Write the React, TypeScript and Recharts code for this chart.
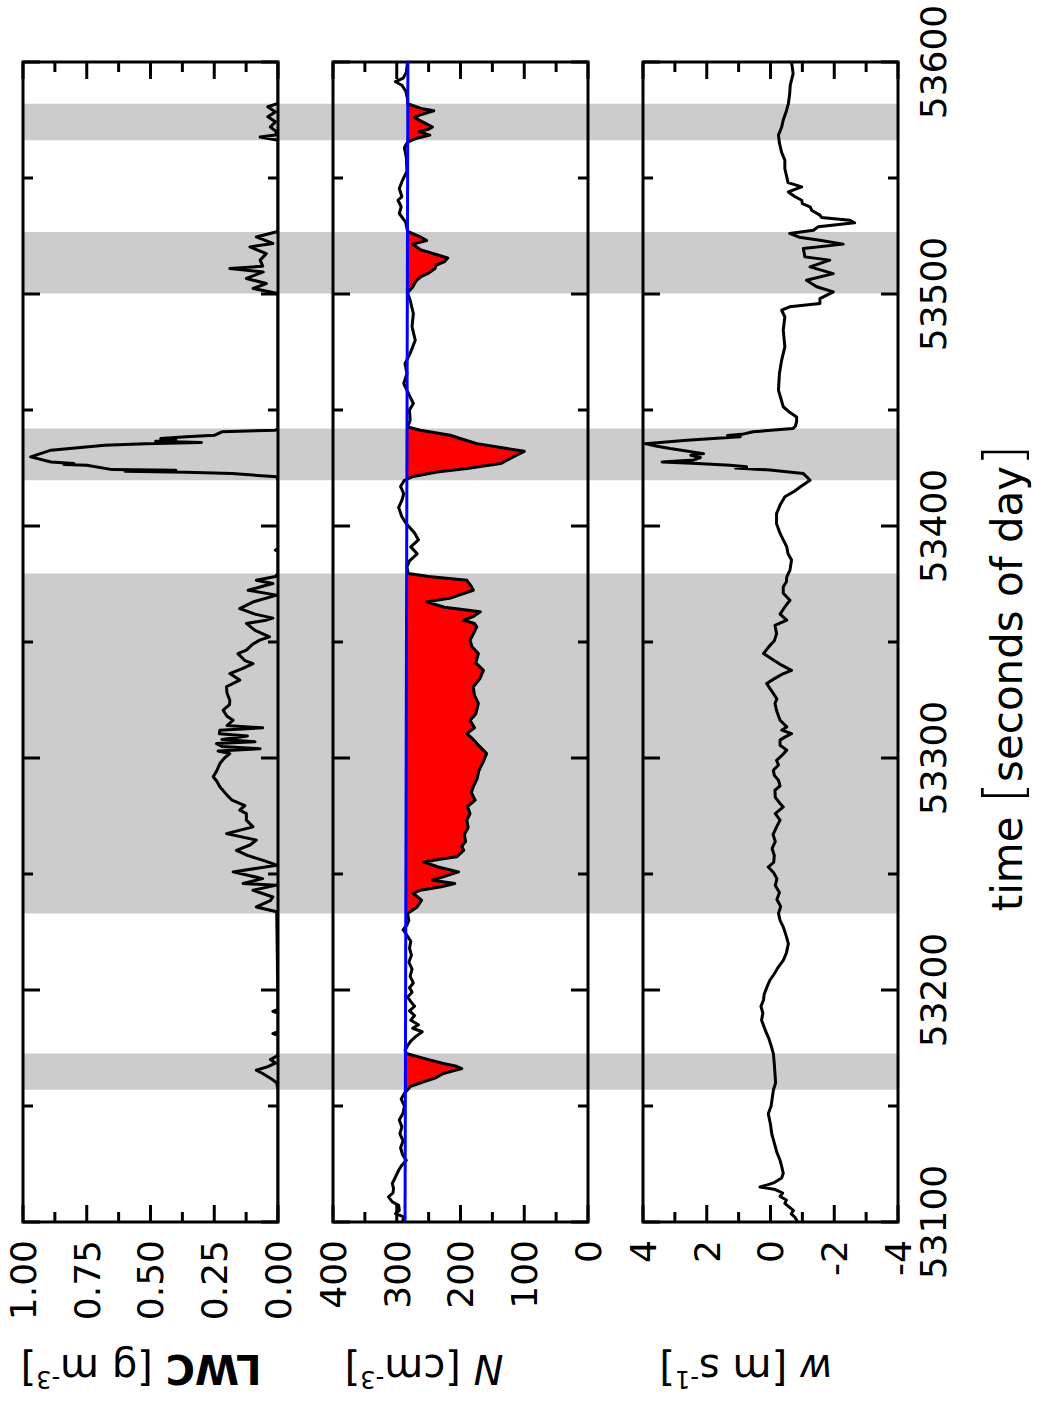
import React from 'react';
import { ComposedChart, Line, Area, XAxis, YAxis, ReferenceArea } from 'recharts';

const FONT = 'DejaVu Sans';

// cloud passages (grey bands), seconds of day
const cloudStart = [53157, 53233, 53419.7, 53500.2, 53566.3];
const cloudEnd = [53172.6, 53379.5, 53442, 53526.7, 53582];

const timeTicks = [53100, 53150, 53200, 53250, 53300, 53350, 53400, 53450, 53500, 53550, 53600];
const timeMajor = [53100, 53200, 53300, 53400, 53500, 53600];
const timeLabels = ['53100', '53200', '53300', '53400', '53500', '53600'];

const lwcTicks = [0, 0.125, 0.25, 0.375, 0.5, 0.625, 0.75, 0.875, 1];
const lwcMajor = [0, 0.25, 0.5, 0.75, 1];
const lwcLabels = ['0.00', '0.25', '0.50', '0.75', '1.00'];

const nTicks = [0, 50, 100, 150, 200, 250, 300, 350, 400];
const nMajor = [0, 100, 200, 300, 400];
const nLabels = ['0', '100', '200', '300', '400'];

const wTicks = [-4, -3, -2, -1, 0, 1, 2, 3, 4];
const wMajor = [-4, -2, 0, 2, 4];
const wLabels = ['-4', '-2', '0', '2', '4'];

// liquid water content [g m-3]
const lwcPoints: [number, number][] = [
  [53100, 0], [53157, 0], [53160, 0.005], [53162, 0.03], [53164, 0.06], [53165.4, 0.085], [53167, 0.04],
  [53168.5, 0.01], [53170, 0.03], [53171.5, 0.005], [53172.6, 0], [53180.5, 0], [53181.2, 0.02], [53182, 0],
  [53190, 0], [53190.8, 0.02], [53191.6, 0], [53233.7, 0.005], [53235.8, 0.085], [53238.5, 0.03],
  [53240.1, 0.02], [53243, 0.098], [53245.2, 0.005], [53245.9, 0.137], [53248, 0.06], [53250.9, 0.176],
  [53253.8, 0.005], [53255.9, 0.058], [53258, 0.12], [53260.2, 0.163], [53262.5, 0.11], [53264.6, 0.085],
  [53267.4, 0.202], [53270.3, 0.098], [53273.2, 0.124], [53276, 0.124], [53277.5, 0.15], [53279.5, 0.13],
  [53281.8, 0.18], [53284, 0.2], [53287.6, 0.228], [53290, 0.24], [53291.9, 0.254], [53294.5, 0.24],
  [53297.6, 0.228], [53300, 0.21], [53301.9, 0.189], [53303, 0.235], [53304, 0.07], [53305, 0.22],
  [53306.2, 0.241], [53307, 0.09], [53308, 0.22], [53309.5, 0.12], [53310.5, 0.23], [53312, 0.228],
  [53313, 0.06], [53314, 0.2], [53316.3, 0.176], [53318, 0.2], [53320.6, 0.215], [53323, 0.19],
  [53324.9, 0.189], [53328, 0.2], [53330.7, 0.202], [53333.6, 0.15], [53336.4, 0.189], [53338.5, 0.14],
  [53340.7, 0.098], [53342, 0.13], [53345, 0.157], [53346.5, 0.124], [53349, 0.1], [53350.8, 0.072],
  [53352.2, 0.033], [53355, 0.09], [53358, 0.124], [53359.4, 0.046], [53360.3, 0.02], [53362, 0.09],
  [53364.4, 0.15], [53367.3, 0.097], [53370.2, 0.005], [53372.3, 0.117], [53374, 0.06], [53375.2, 0.02],
  [53376.6, 0.085], [53378.2, 0.01], [53379.5, 0], [53389, 0], [53389.6, 0.01], [53390.2, 0],
  [53419.7, 0], [53421.2, 0.005], [53422.6, 0.18], [53423.2, 0.36], [53423.6, 0.6], [53424, 0.4],
  [53424.3, 0.65], [53426.2, 0.75], [53426.5, 0.84], [53426.9, 0.8], [53427.6, 0.89], [53429.8, 0.97],
  [53432.7, 0.89], [53434.8, 0.68], [53435.5, 0.52], [53436, 0.3], [53436.5, 0.48], [53437, 0.4],
  [53437.7, 0.46], [53438.5, 0.36], [53439.1, 0.25], [53440.6, 0.22], [53441.3, 0.01], [53442, 0],
  [53500.2, 0], [53502.4, 0.098], [53504.5, 0.046], [53506.7, 0.124], [53509.5, 0.058], [53511, 0.189],
  [53512, 0.06], [53514.6, 0.07], [53517.4, 0.046], [53520.3, 0.11], [53521.8, 0.02], [53524.6, 0.085],
  [53526.8, 0.005], [53527.5, 0], [53566.3, 0], [53567.7, 0.07], [53568.5, 0.01], [53569.9, 0.005],
  [53572, 0.03], [53574.2, 0.01], [53576.4, 0.04], [53578.5, 0.01], [53580.7, 0.04], [53582.1, 0],
  [53600, 0],
];

// droplet number concentration [cm-3]
const nPoints: [number, number][] = [
  [53100, 291], [53102.2, 289], [53103.6, 302], [53105, 296], [53107.2, 297], [53108.7, 307], [53110.8, 313],
  [53112.5, 306], [53114.4, 305], [53116.6, 307], [53119.4, 302], [53122.3, 297], [53124.5, 292],
  [53126.6, 285], [53129, 291], [53132, 294], [53135, 290], [53138, 295], [53141, 292], [53144, 296],
  [53147, 290], [53150, 288], [53153, 293], [53155.5, 288], [53157, 283], [53158.5, 278], [53160.4, 258],
  [53162, 240], [53164, 227], [53166.1, 198], [53167.3, 208], [53168.3, 227], [53170, 250], [53171.5, 270],
  [53172.6, 285], [53174, 287], [53176, 283], [53178, 278], [53180, 270], [53182, 260], [53183.5, 275],
  [53185, 266], [53187, 278], [53189, 272], [53191, 280], [53193, 272], [53195, 278], [53197, 283],
  [53199, 276], [53201, 280], [53203, 274], [53206, 279], [53209, 276], [53212, 281], [53215, 277],
  [53218, 280], [53221, 278], [53224, 285], [53226, 290], [53228, 284], [53230, 281], [53233, 283],
  [53233.7, 279], [53235.8, 268], [53238.7, 261], [53241.6, 274], [53243, 263], [53244.5, 230],
  [53245.9, 209], [53247.3, 244], [53249, 225], [53250.9, 203], [53253, 235], [53255.2, 258],
  [53256.5, 230], [53257.4, 206], [53260.2, 195], [53262, 198], [53264, 192], [53267, 194], [53270, 188],
  [53273.2, 190], [53276, 185], [53279, 189], [53281.8, 177], [53285, 183], [53287.6, 180], [53291, 174],
  [53294.7, 171], [53298, 165], [53301.9, 159], [53305, 170], [53308, 180], [53310.5, 190], [53313, 178],
  [53316.3, 185], [53319, 176], [53323.5, 172], [53327, 178], [53330.7, 180], [53334, 170], [53337.8, 164],
  [53341, 176], [53345, 172], [53348, 182], [53350.8, 185], [53354, 179], [53356.5, 174.5], [53358, 178],
  [53359.4, 195], [53361, 180], [53363, 169], [53365, 225], [53367.3, 253], [53369, 215], [53372.3, 180],
  [53374, 183], [53376.6, 190], [53378.2, 250], [53379.5, 282], [53382.4, 284], [53385, 280], [53388, 268],
  [53391, 278], [53394, 266], [53397, 272], [53401, 285], [53404, 292], [53408, 297], [53411, 292],
  [53414, 289], [53417, 294], [53419.7, 288], [53421.2, 276], [53423.3, 237], [53424.8, 190],
  [53426.9, 137], [53429.1, 122], [53430.5, 112], [53432.2, 100], [53433.4, 127], [53435.5, 174],
  [53437.5, 198], [53439.1, 216], [53441.3, 263], [53442.7, 283], [53445.6, 279], [53450, 280],
  [53452.8, 274], [53458.5, 284], [53461.4, 289], [53465.7, 284], [53470, 287], [53474.4, 279],
  [53480.1, 271], [53485.8, 276], [53491.6, 274], [53497.3, 279], [53500.5, 283], [53503, 275],
  [53505.5, 270], [53507.5, 262], [53509, 250], [53511, 240], [53512.5, 238], [53514, 225], [53515.5, 220],
  [53517, 238], [53519, 262], [53521.5, 275], [53523, 253], [53524.5, 262], [53527, 283], [53531, 286],
  [53534.7, 296], [53537.6, 293], [53540.4, 298], [53542, 292], [53545.5, 296], [53549, 291], [53553, 284],
  [53559, 285], [53563, 288], [53565.5, 283], [53567, 270], [53568.5, 248], [53570, 265], [53571, 250],
  [53572, 244], [53574, 258], [53576, 272], [53577, 265], [53579, 242], [53580, 262], [53582, 283],
  [53584, 283], [53587.5, 286], [53590, 292], [53591.5, 302], [53593, 290], [53595.5, 285], [53598, 284],
  [53600, 283],
];

// linear background concentration (blue line)
const nBase: [number, number][] = [[53100, 287], [53600, 282.5]];

// vertical wind [m s-1]
const wPoints: [number, number][] = [
  [53100, -0.85], [53102, -0.77], [53103.5, -0.65], [53105, -0.72], [53106.5, -0.58], [53108, -0.45],
  [53109.5, -0.5], [53111, -0.3], [53112.5, -0.38], [53114, -0.15], [53115.1, 0.33], [53116, 0.1],
  [53117, -0.12], [53119, -0.35], [53121, -0.4], [53124, -0.35], [53126.6, -0.3], [53130, -0.2],
  [53134, -0.12], [53138, -0.04], [53142, 0], [53146.7, 0.07], [53150, -0.02], [53153, -0.05],
  [53156.8, -0.09], [53160, -0.16], [53164, -0.14], [53168, -0.12], [53172.6, -0.09], [53176, -0.02],
  [53179, 0.05], [53181.2, 0.12], [53184, 0.2], [53187, 0.28], [53190, 0.24], [53193, 0.3], [53195.6, 0.22],
  [53198, 0.2], [53201, 0.12], [53204.2, 0.02], [53207, -0.12], [53210, -0.25], [53212.8, -0.4],
  [53216, -0.5], [53220, -0.56], [53223, -0.5], [53227.2, -0.4], [53230, -0.3], [53233, -0.25],
  [53236, -0.32], [53239, -0.2], [53242, -0.28], [53245, -0.15], [53248, -0.2], [53250.5, -0.1],
  [53253, 0.07], [53255, -0.1], [53258, -0.12], [53261, -0.05], [53264, -0.15], [53267, -0.08],
  [53270, -0.18], [53273.2, -0.3], [53276, -0.15], [53278.9, -0.4], [53280.4, -0.3], [53283, -0.15],
  [53286.1, -0.14], [53288, -0.3], [53290.4, -0.25], [53292.5, -0.12], [53294.7, -0.09], [53297, -0.25],
  [53299, -0.19], [53301, -0.35], [53303.4, -0.51], [53305.5, -0.3], [53307.7, -0.3], [53309, -0.45],
  [53310.5, -0.66], [53312, -0.35], [53313.4, -0.51], [53316.3, -0.3], [53320, -0.2], [53323.5, -0.14],
  [53325.5, -0.2], [53327.8, -0.09], [53330, 0.02], [53332.1, 0.12], [53334, -0.1], [53336, -0.35],
  [53337.8, -0.66], [53340, -0.35], [53342.2, -0.09], [53345, 0.22], [53348, 0.05], [53350.5, -0.12],
  [53353.6, -0.19], [53357.2, -0.14], [53359.4, -0.51], [53362, -0.3], [53365.1, -0.45], [53368, -0.61],
  [53371, -0.4], [53373.8, -0.4], [53376, -0.5], [53378.1, -0.51], [53381, -0.61], [53385.3, -0.66],
  [53388, -0.55], [53391, -0.51], [53394, -0.4], [53396.8, -0.3], [53401, -0.19], [53405.4, -0.19],
  [53409, -0.3], [53412.6, -0.45], [53415, -0.75], [53417, -0.95], [53419.7, -1.24], [53421, -1.15],
  [53422.6, -1.03], [53424.1, 0.02], [53425, 1.1], [53425.5, 0.75], [53426.2, 1.27], [53426.9, 2.3],
  [53427.6, 3.4], [53428.5, 2.4], [53429.5, 2.2], [53430.5, 2.5], [53431.2, 2.1], [53433.4, 3.15],
  [53434.5, 3.6], [53435.5, 3.93], [53437, 2.62], [53438.5, 0.95], [53439, 1.35], [53439.5, 0.9],
  [53440.6, 0.54], [53442, -0.7], [53443, -0.78], [53445, -0.82], [53447, -0.82], [53449, -0.6],
  [53451.4, -0.4], [53458.5, -0.25], [53465.7, -0.28], [53471.5, -0.35], [53477.2, -0.45], [53484.4, -0.4],
  [53490.1, -0.45], [53493, -0.35], [53494.5, -0.6], [53495.9, -1.55], [53498, -1.55], [53500.9, -1.97],
  [53503.1, -1.45], [53505.9, -1.13], [53508.8, -1.97], [53511.7, -1.24], [53514.6, -1.86], [53516, -1.08],
  [53519.6, -1.03], [53521.5, -2.28], [53523.2, -1.55], [53524.5, -0.9], [53526.1, -0.6], [53527.5, -1.35],
  [53529, -1.5], [53530.7, -2.64], [53531.8, -2.49], [53533, -1.6], [53534, -1.55], [53536, -1.3],
  [53537.6, -1.24], [53539, -1.0], [53540.4, -0.98], [53541.9, -0.77], [53544, -0.56], [53546.2, -0.98],
  [53548, -0.55], [53550.5, -0.51], [53554, -0.45], [53557.7, -0.45], [53561, -0.35], [53565, -0.28],
  [53568.5, -0.25], [53572, -0.35], [53575, -0.4], [53579, -0.5], [53582, -0.56], [53586, -0.6],
  [53590, -0.62], [53595, -0.71], [53598, -0.68], [53600, -0.66],
];

const inCloud = (t: number) => cloudStart.some((s, i) => t >= s && t <= cloudEnd[i]);
const baseAt = (t: number) =>
  nBase[0][1] + ((nBase[1][1] - nBase[0][1]) * (t - nBase[0][0])) / (nBase[1][0] - nBase[0][0]);

const lwcData = lwcPoints.map(([t, v]) => ({ t, v }));
const wData = wPoints.map(([t, v]) => ({ t, v }));
const baseData = nBase.map(([t, v]) => ({ t, v }));
const nData = nPoints.map(([t, v]) => {
  const b = baseAt(t);
  return { t, v, red: inCloud(t) && v < b ? [v, b] : [b, b] };
});

const WIDTH = 1411; // figure is laid out unrotated, then turned
const HEIGHT = 1037;
const MARGIN_LEFT = 189;
const MARGIN_RIGHT = 62;

type Side = 'bottom' | 'top' | 'left' | 'right';

const makeTick = (side: Side, major: number[], labels?: string[]) => (props: any) => {
  const { x, y, payload } = props;
  const idx = major.findIndex((m) => Math.abs(m - payload.value) < 1e-9);
  const len = idx >= 0 ? 17 : 10;
  let x2 = x;
  let y2 = y;
  if (side === 'bottom') y2 = y - len;
  if (side === 'top') y2 = y + len;
  if (side === 'left') x2 = x + len;
  if (side === 'right') x2 = x - len;
  let label = null;
  if (labels && idx >= 0) {
    label =
      side === 'bottom' ? (
        <text x={x} y={y + 48} textAnchor="middle" fontFamily={FONT} fontSize={36} fill="#000">
          {labels[idx]}
        </text>
      ) : (
        <text x={x - 18} y={y} dy="0.36em" textAnchor="end" fontFamily={FONT} fontSize={36} fill="#000">
          {labels[idx]}
        </text>
      );
  }
  return (
    <g>
      <line x1={x} y1={y} x2={x2} y2={y2} stroke="#000" strokeWidth={3} />
      {label}
    </g>
  );
};

const yTitle = (parts: React.ReactNode, center: number) => (props: any) => {
  const vb = props.viewBox;
  const cx = vb.x + 56;
  const cy = vb.y + center;
  return (
    <text
      x={cx}
      y={cy}
      transform={`rotate(-90 ${cx} ${cy})`}
      textAnchor="middle"
      fontFamily={FONT}
      fontSize={40}
      fill="#000"
    >
      {parts}
    </text>
  );
};

const timeTitle = (props: any) => {
  const vb = props.viewBox;
  return (
    <text x={vb.x + vb.width / 2 - 36} y={vb.y + 124} textAnchor="middle" fontFamily={FONT} fontSize={42} fill="#000">
      time <tspan fontSize={54} fontWeight={300}>[</tspan>seconds of day<tspan fontSize={54} fontWeight={300}>]</tspan>
    </text>
  );
};

interface PanelProps {
  top: number;
  height: number;
  marginTop: number;
  marginBottom: number;
  data: any[];
  domain: [number, number];
  ticks: number[];
  major: number[];
  labels: string[];
  title: any;
  showTime?: boolean;
  children: React.ReactNode;
}

// top and right axes only carry the inward ticks of the frame
const Panel = ({ top, height, marginTop, marginBottom, data, domain, ticks, major, labels, title, showTime, children }: PanelProps) => (
  <div style={{ position: 'absolute', left: 0, top }}>
    <ComposedChart
      width={WIDTH}
      height={height}
      data={data}
      margin={{ top: marginTop - 1, right: MARGIN_RIGHT - 1, bottom: marginBottom - 1, left: 0 }}
    >
      <XAxis
        xAxisId="b"
        type="number"
        dataKey="t"
        domain={[53100, 53600]}
        allowDataOverflow
        ticks={timeTicks}
        interval={0}
        height={1}
        tickSize={0}
        tickMargin={0}
        axisLine={false}
        tickLine={false}
        tick={makeTick('bottom', timeMajor, showTime ? timeLabels : undefined)}
        label={showTime ? timeTitle : undefined}
      />
      <XAxis
        xAxisId="t"
        orientation="top"
        type="number"
        dataKey="t"
        domain={[53100, 53600]}
        allowDataOverflow
        ticks={timeTicks}
        interval={0}
        height={1}
        tickSize={0}
        tickMargin={0}
        axisLine={false}
        tickLine={false}
        tick={makeTick('top', timeMajor)}
      />
      <YAxis
        yAxisId="l"
        type="number"
        domain={domain}
        allowDataOverflow
        ticks={ticks}
        interval={0}
        width={MARGIN_LEFT}
        tickSize={0}
        tickMargin={0}
        axisLine={false}
        tickLine={false}
        tick={makeTick('left', major, labels)}
        label={title}
      />
      <YAxis
        yAxisId="r"
        orientation="right"
        type="number"
        domain={domain}
        allowDataOverflow
        ticks={ticks}
        interval={0}
        width={1}
        tickSize={0}
        tickMargin={0}
        axisLine={false}
        tickLine={false}
        tick={makeTick('right', major)}
      />
      {/* invisible twin of the series so the top/right axes get a scale */}
      <Line xAxisId="t" yAxisId="r" type="linear" dataKey="v" stroke="none" dot={false} activeDot={false} isAnimationActive={false} />
      {children}
      <ReferenceArea
        xAxisId="b"
        yAxisId="l"
        x1={53100}
        x2={53600}
        y1={domain[0]}
        y2={domain[1]}
        fill="none"
        stroke="#000"
        strokeWidth={3}
      />
    </ComposedChart>
  </div>
);

const lineProps = {
  xAxisId: 'b',
  yAxisId: 'l',
  type: 'linear' as const,
  dataKey: 'v',
  strokeWidth: 3,
  strokeLinejoin: 'round' as const,
  dot: false,
  activeDot: false,
  isAnimationActive: false,
};

export default function App() {
  return (
    <div style={{ position: 'absolute', left: 0, top: 0, width: HEIGHT, height: WIDTH, overflow: 'hidden', background: '#fff' }}>
      <div
        style={{
          position: 'absolute',
          left: 0,
          top: 0,
          width: WIDTH,
          height: HEIGHT,
          transformOrigin: '0 0',
          transform: `translate(0px, ${WIDTH}px) rotate(-90deg)`,
        }}
      >
        {/* grey cloud bands spanning all three panels */}
        <div style={{ position: 'absolute', left: 0, top: 0 }}>
          <ComposedChart
            width={WIDTH}
            height={HEIGHT}
            data={lwcData}
            margin={{ top: 23, right: MARGIN_RIGHT, bottom: HEIGHT - 898, left: MARGIN_LEFT }}
          >
            <XAxis type="number" dataKey="t" domain={[53100, 53600]} allowDataOverflow hide />
            <YAxis type="number" domain={[0, 1]} allowDataOverflow hide />
            {cloudStart.map((s, i) => (
              <ReferenceArea key={i} x1={s} x2={cloudEnd[i]} y1={0} y2={1} fill="#cccccc" fillOpacity={1} stroke="none" />
            ))}
          </ComposedChart>
        </div>

        <Panel
          top={0}
          height={300}
          marginTop={23}
          marginBottom={22}
          data={lwcData}
          domain={[0, 1]}
          ticks={lwcTicks}
          major={lwcMajor}
          labels={lwcLabels}
          title={yTitle(
            <>
              <tspan fontWeight="bold">LWC</tspan>
              <tspan> [g m</tspan>
              <tspan fontSize={24} dy={-16}>-3</tspan>
              <tspan dy={16}>]</tspan>
            </>,
            118,
          )}
        >
          <Line {...lineProps} stroke="#000" />
        </Panel>

        <Panel
          top={305}
          height={305}
          marginTop={28}
          marginBottom={22}
          data={nData}
          domain={[0, 400]}
          ticks={nTicks}
          major={nMajor}
          labels={nLabels}
          title={yTitle(
            <>
              <tspan fontStyle="italic">N</tspan>
              <tspan> [cm</tspan>
              <tspan fontSize={24} dy={-16}>-3</tspan>
              <tspan dy={16}>]</tspan>
            </>,
            91,
          )}
        >
          <Area xAxisId="b" yAxisId="l" type="linear" dataKey="red" fill="#ff0000" fillOpacity={1} stroke="none" dot={false} activeDot={false} isAnimationActive={false} />
          <Line {...lineProps} stroke="#000" />
          <Line {...lineProps} data={baseData} stroke="#0000ff" />
        </Panel>

        <Panel
          top={615}
          height={422}
          marginTop={28}
          marginBottom={139}
          data={wData}
          domain={[-4, 4]}
          ticks={wTicks}
          major={wMajor}
          labels={wLabels}
          showTime
          title={yTitle(
            <>
              <tspan fontStyle="italic">w</tspan>
              <tspan> [m s</tspan>
              <tspan fontSize={24} dy={-16}>-1</tspan>
              <tspan dy={16}>]</tspan>
            </>,
            103,
          )}
        >
          <Line {...lineProps} stroke="#000" />
        </Panel>
      </div>
    </div>
  );
}
